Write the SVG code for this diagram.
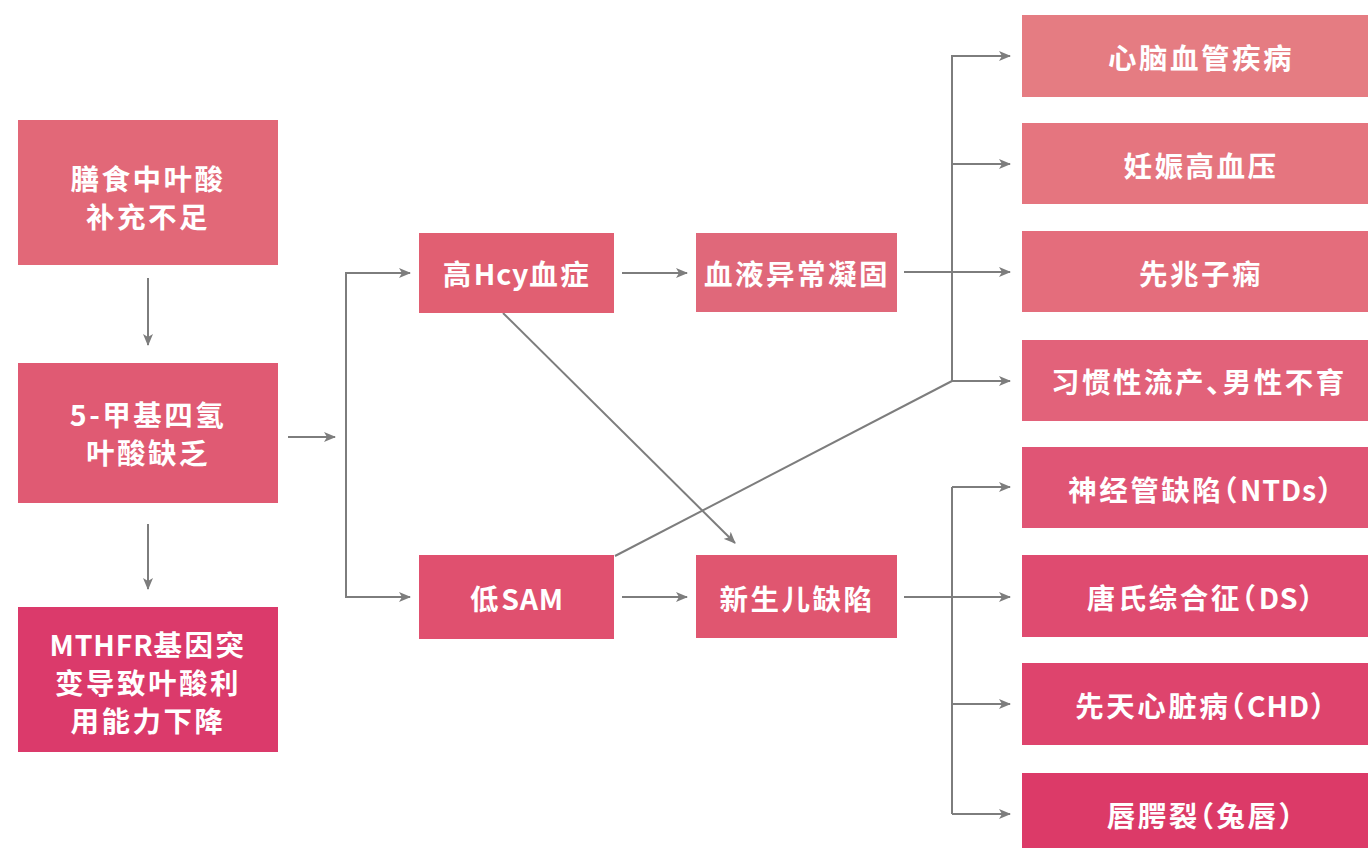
<svg xmlns="http://www.w3.org/2000/svg" width="1368" height="848" viewBox="0 0 1368 848">
<defs>
<style>
.t{font-family:"Noto Sans CJK SC","Noto Sans",sans-serif;font-size:28.5px;font-weight:700;fill:#ffffff;text-anchor:middle;dominant-baseline:central;letter-spacing:2.5px;font-feature-settings:"halt"}
.l{letter-spacing:0.8px}
.c{fill:none;stroke:#7d7d7d;stroke-width:2}
</style>
<marker id="ah" viewBox="0 0 12 10" refX="11" refY="5" markerWidth="12" markerHeight="10" markerUnits="userSpaceOnUse" orient="auto">
<path d="M0,0 L12,5 L0,10 L3,5 z" fill="#7d7d7d"/>
</marker>
</defs>
<rect width="1368" height="848" fill="#ffffff"/>

<g id="connectors">
<line class="c" x1="148" y1="278" x2="148" y2="345" marker-end="url(#ah)"/>
<line class="c" x1="148" y1="524" x2="148" y2="589" marker-end="url(#ah)"/>
<line class="c" x1="288" y1="437" x2="335" y2="437" marker-end="url(#ah)"/>
<polyline class="c" points="410,273 346,273 346,597 410,597" marker-end="url(#ah)"/>
<line class="c" x1="346" y1="273" x2="410" y2="273" marker-end="url(#ah)"/>
<line class="c" x1="622" y1="273" x2="687" y2="273" marker-end="url(#ah)"/>
<line class="c" x1="622" y1="597" x2="687" y2="597" marker-end="url(#ah)"/>
<line class="c" x1="503" y1="313" x2="735" y2="543" marker-end="url(#ah)"/>
<line class="c" x1="615" y1="556" x2="952" y2="381"/>
<polyline class="c" points="1010,56 952,56 952,381"/>
<line class="c" x1="952" y1="56" x2="1010" y2="56" marker-end="url(#ah)"/>
<line class="c" x1="952" y1="164" x2="1010" y2="164" marker-end="url(#ah)"/>
<line class="c" x1="904" y1="272" x2="1010" y2="272" marker-end="url(#ah)"/>
<line class="c" x1="952" y1="381" x2="1010" y2="381" marker-end="url(#ah)"/>
<line class="c" x1="952" y1="487" x2="952" y2="814"/>
<line class="c" x1="952" y1="487" x2="1010" y2="487" marker-end="url(#ah)"/>
<line class="c" x1="904" y1="597" x2="1010" y2="597" marker-end="url(#ah)"/>
<line class="c" x1="952" y1="704" x2="1010" y2="704" marker-end="url(#ah)"/>
<line class="c" x1="952" y1="814" x2="1010" y2="814" marker-end="url(#ah)"/>
</g>

<g id="n-diet"><rect x="18" y="120" width="260" height="145" fill="#e26878"/>
<text class="t" x="148" y="177">膳食中叶酸</text><text class="t" x="148" y="215">补充不足</text></g>
<g id="n-5mthf"><rect x="18" y="363" width="260" height="140" fill="#e05a73"/>
<text class="t" x="148" y="413">5-甲基四氢</text><text class="t" x="148" y="451">叶酸缺乏</text></g>
<g id="n-mthfr"><rect x="18" y="607" width="260" height="145" fill="#db3a6b"/>
<text class="t" x="148" y="643"><tspan class="l">MTHFR</tspan>基因突</text><text class="t" x="148" y="681">变导致叶酸利</text><text class="t" x="148" y="719">用能力下降</text></g>

<g id="n-hcy"><rect x="419" y="233" width="195" height="80" fill="#e15f72"/>
<text class="t" x="517" y="272">高<tspan class="l">Hcy</tspan>血症</text></g>
<g id="n-blood"><rect x="696" y="233" width="201" height="79" fill="#e0687a"/>
<text class="t" x="797" y="272">血液异常凝固</text></g>
<g id="n-sam"><rect x="419" y="555" width="195" height="84" fill="#e0506f"/>
<text class="t" x="517" y="597">低<tspan class="l">SAM</tspan></text></g>
<g id="n-birth"><rect x="696" y="555" width="201" height="83" fill="#e05670"/>
<text class="t" x="797" y="597">新生儿缺陷</text></g>

<g id="n-cvd"><rect x="1022" y="15" width="346" height="82" fill="#e57c82"/>
<text class="t" x="1201" y="56" letter-spacing="3.5">心脑血管疾病</text></g>
<g id="n-pih"><rect x="1022" y="123" width="346" height="81" fill="#e5757f"/>
<text class="t" x="1201" y="164" letter-spacing="3.5">妊娠高血压</text></g>
<g id="n-pe"><rect x="1022" y="231" width="346" height="81" fill="#e46d7c"/>
<text class="t" x="1201" y="272" letter-spacing="3.5">先兆子痫</text></g>
<g id="n-ab"><rect x="1022" y="340" width="346" height="81" fill="#e2627a"/>
<text class="t" x="1199" y="380">习惯性流产、男性不育</text></g>
<g id="n-ntd"><rect x="1022" y="447" width="346" height="81" fill="#e05575"/>
<text class="t" x="1201" y="488">神经管缺陷（<tspan class="l">NTDs</tspan>）</text></g>
<g id="n-ds"><rect x="1022" y="555" width="346" height="82" fill="#df4b70"/>
<text class="t" x="1201" y="596">唐氏综合征（<tspan class="l">DS</tspan>）</text></g>
<g id="n-chd"><rect x="1022" y="663" width="346" height="82" fill="#de446d"/>
<text class="t" x="1201" y="704">先天心脏病（<tspan class="l">CHD</tspan>）</text></g>
<g id="n-cl"><rect x="1022" y="773" width="346" height="82" fill="#dc3a68"/>
<text class="t" x="1201" y="814">唇腭裂（兔唇）</text></g>
</svg>
